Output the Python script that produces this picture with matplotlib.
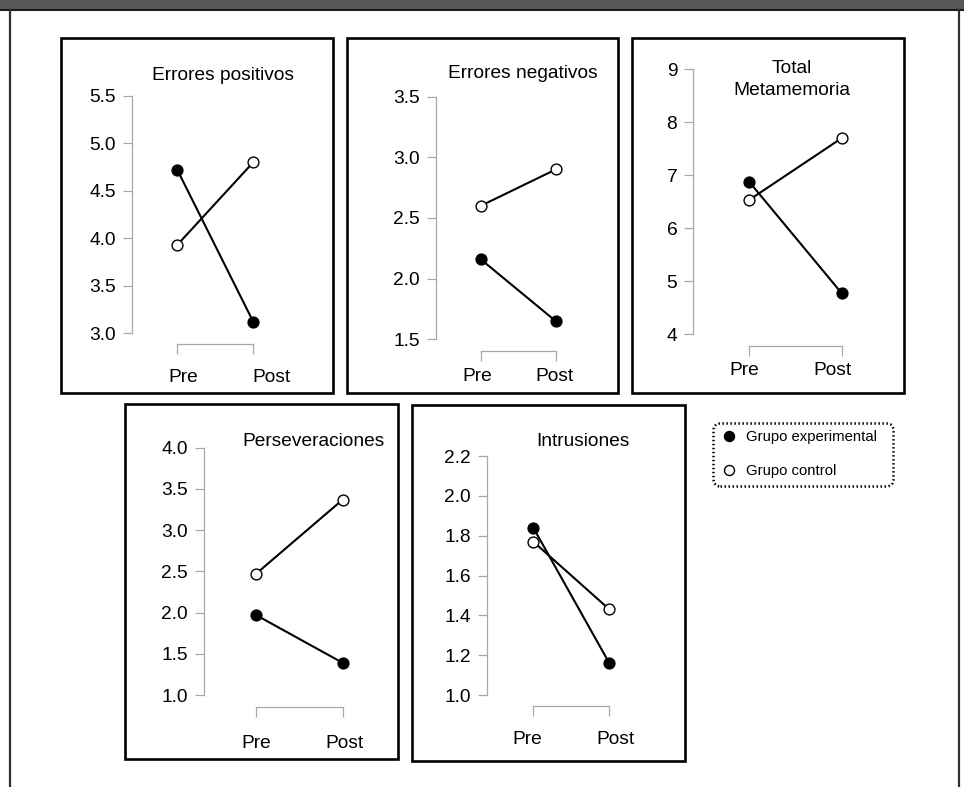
import matplotlib.pyplot as plt
from matplotlib.lines import Line2D
from matplotlib.patches import Rectangle
from matplotlib.transforms import blended_transform_factory, offset_copy

plt.rcParams['font.family'] = ['Liberation Sans', 'DejaVu Sans']

W, H = 964, 787

# data
titles = ["Errores positivos", "Errores negativos", "Total\nMetamemoria",
          "Perseveraciones", "Intrusiones"]
phases = ["Pre", "Post"]
exp_pre = [4.72, 2.16, 6.88, 1.97, 1.84]
exp_post = [3.12, 1.65, 4.77, 1.39, 1.16]
ctrl_pre = [3.93, 2.60, 6.53, 2.47, 1.77]
ctrl_post = [4.80, 2.90, 7.70, 3.37, 1.43]
yticks = [[3.0, 3.5, 4.0, 4.5, 5.0, 5.5],
          [1.5, 2.0, 2.5, 3.0, 3.5],
          [4, 5, 6, 7, 8, 9],
          [1.0, 1.5, 2.0, 2.5, 3.0, 3.5, 4.0],
          [1.0, 1.2, 1.4, 1.6, 1.8, 2.0, 2.2]]
yfmt = ["%.1f", "%.1f", "%d", "%.1f", "%.1f"]
legend_labels = ["Grupo experimental", "Grupo control"]

# layout in pixels: box, y-axis x, top/bottom tick px, bracket y, pre/post px,
# label y, label dx, title position
layout = [
    dict(box=(61, 38, 333, 393), ax_x=131.7, yt=95.7, yb=333.3, brk=344,
         px=(177.3, 253.3), lab_y=377.7, lab_dx=(6, 18), title=(223, 75)),
    dict(box=(347, 38, 618, 393), ax_x=435.7, yt=96.7, yb=339.3, brk=351,
         px=(480.7, 555.7), lab_y=376.7, lab_dx=(-3, -1), title=(523, 73)),
    dict(box=(632, 38, 904, 393), ax_x=693.3, yt=69.3, yb=334, brk=346,
         px=(749, 841.7), lab_y=370.7, lab_dx=(-5, -9), title=(792, 79.5)),
    dict(box=(125, 404, 398, 759), ax_x=204, yt=447.7, yb=695, brk=707.3,
         px=(256, 342.7), lab_y=743.3, lab_dx=(0, 2), title=(313, 442)),
    dict(box=(412, 405, 685, 761), ax_x=486.7, yt=456, yb=695, brk=706,
         px=(533.3, 609.3), lab_y=740, lab_dx=(-6, 6), title=(583, 442)),
]

fs = 13.8
gray = "#a8a8a8"

fig = plt.figure(figsize=(W / 100, H / 100), dpi=100)


def fx(x):
    return x / W


def fy(y):
    return 1 - y / H


# page frame
fig.add_artist(Rectangle((0, fy(10)), 1, 10 / H, transform=fig.transFigure,
                         facecolor="#585858", edgecolor="none"))
fig.add_artist(Line2D([0, 1], [fy(10), fy(10)], transform=fig.transFigure,
                      color="#1e1e1e", lw=1.5))
for xl in (9.5, 958.5):
    fig.add_artist(Line2D([fx(xl), fx(xl)], [0, fy(10)], transform=fig.transFigure,
                          color="#303030", lw=1.6))

for i, lay in enumerate(layout):
    x0, y0, x1, y1 = lay["box"]
    fig.add_artist(Rectangle((fx(x0), fy(y1)), (x1 - x0) / W, (y1 - y0) / H,
                             transform=fig.transFigure, fill=False,
                             edgecolor="black", lw=1.9))

    pre_px, post_px = lay["px"]
    left_px = lay["ax_x"]
    right_px = post_px + (pre_px - left_px)
    top_px = y0 + 15
    bot_px = lay["brk"]
    ax = fig.add_axes([fx(left_px), fy(bot_px), (right_px - left_px) / W,
                       (bot_px - top_px) / H])

    # map data to pixel positions
    xs = (post_px - pre_px)
    ax.set_xlim(0 - (pre_px - left_px) / xs, 1 + (right_px - post_px) / xs)
    vt, vb = yticks[i][-1], yticks[i][0]
    s = (lay["yb"] - lay["yt"]) / (vt - vb)
    ax.set_ylim(vb - (bot_px - lay["yb"]) / s, vt + (lay["yt"] - top_px) / s)

    ax.patch.set_visible(False)
    for side in ("top", "right"):
        ax.spines[side].set_visible(False)
    for side in ("left", "bottom"):
        ax.spines[side].set_color(gray)
        ax.spines[side].set_linewidth(0.9)
    ax.spines["left"].set_bounds(vb, vt)
    ax.spines["bottom"].set_bounds(0, 1)

    ax.set_yticks(yticks[i])
    ax.set_yticklabels([yfmt[i] % v for v in yticks[i]])
    ax.tick_params(axis="y", direction="out", length=6.5, width=0.9, color=gray,
                   labelsize=fs, pad=5)
    ax.set_xticks([0, 1])
    ax.set_xticklabels([])
    ax.tick_params(axis="x", direction="out", length=7, width=0.9, color=gray)

    trans = blended_transform_factory(ax.transData, fig.transFigure)
    for k, lab in enumerate(phases):
        t = offset_copy(trans, fig=fig, x=lay["lab_dx"][k], y=0, units="dots")
        ax.text(k, fy(lay["lab_y"]), lab, transform=t, ha="center", va="center",
                fontsize=fs)

    ax.plot([0, 1], [exp_pre[i], exp_post[i]], color="black", lw=1.5,
            marker="o", markersize=7.8, markerfacecolor="black",
            markeredgecolor="black", clip_on=False)
    ax.plot([0, 1], [ctrl_pre[i], ctrl_post[i]], color="black", lw=1.5,
            marker="o", markersize=7.8, markerfacecolor="white",
            markeredgecolor="black", markeredgewidth=1.0, clip_on=False)

    tx, ty = lay["title"]
    fig.text(fx(tx), fy(ty), titles[i], ha="center", va="center", fontsize=fs,
             linespacing=1.45)

# legend
h1 = Line2D([], [], ls="none", marker="o", markersize=7.2, markerfacecolor="black",
            markeredgecolor="black")
h2 = Line2D([], [], ls="none", marker="o", markersize=7.2, markerfacecolor="white",
            markeredgecolor="black", markeredgewidth=1.0)
leg = fig.legend([h1, h2], legend_labels, loc="upper left",
                 bbox_to_anchor=(fx(713), fy(485), (893 - 713) / W, (485 - 423) / H),
                 mode="expand", borderaxespad=0, fontsize=10.7, handlelength=1.12,
                 handletextpad=0.59, borderpad=0.5, labelspacing=1.35,
                 fancybox=True, framealpha=1, edgecolor="black")
frame = leg.get_frame()
frame.set_linewidth(1.8)
frame.set_linestyle((0, (0.6, 1.0)))
frame.set_boxstyle("round", pad=0, rounding_size=0.5)

fig.savefig("out.png", dpi=100)
